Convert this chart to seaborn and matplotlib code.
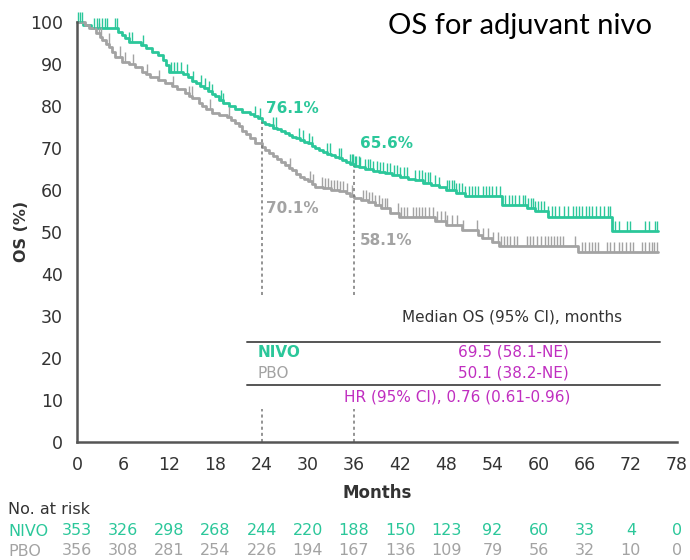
import numpy as np
import pandas as pd
import matplotlib
matplotlib.use("Agg")
import matplotlib.pyplot as plt
import seaborn as sns

# ---------------- data ----------------
nivo_t = [0, 0.8, 1.8, 5.3, 5.8, 6.3, 6.8, 8.3, 9.0, 9.8, 10.5, 11.2, 11.6, 12.0, 13.8, 14.4,
          15.0, 15.5, 16.0, 16.5, 17.0, 17.5, 18.0, 18.5, 19.0, 19.8, 20.5, 21.5, 22.5, 23.0,
          23.5, 24.0, 24.5, 25.0, 25.5, 26.0, 26.5, 27.0, 27.5, 28.0, 28.5, 29.0, 29.5, 30.0,
          30.5, 31.0, 31.5, 32.0, 32.5, 33.0, 33.5, 34.0, 34.5, 35.0, 35.5, 36.0, 36.7, 37.5,
          38.5, 39.2, 40.0, 41.0, 42.0, 43.0, 44.0, 45.0, 46.0, 47.0, 48.0, 49.3, 50.5, 55.2,
          58.5, 59.6, 61.2, 69.5, 75.5]
nivo_s = [100, 99.2, 98.4, 97.6, 96.8, 96.0, 95.2, 94.5, 93.7, 92.9, 92.1, 90.9, 89.7, 88.1, 87.5, 86.8,
          85.8, 85.3, 84.8, 84.2, 83.5, 82.8, 82.2, 81.4, 80.6, 79.9, 79.2, 78.6, 78.0, 77.5,
          77.0, 76.1, 75.7, 75.3, 74.8, 74.4, 73.9, 73.5, 73.0, 72.6, 72.2, 71.9, 71.4, 71.0,
          70.5, 70.0, 69.5, 69.0, 68.6, 68.2, 67.8, 67.5, 67.0, 66.6, 66.1, 65.6, 65.3, 65.0,
          64.4, 64.1, 63.9, 63.4, 63.0, 62.6, 62.3, 61.7, 61.2, 60.6, 60.0, 59.2, 58.4, 56.4,
          55.6, 54.9, 53.6, 50.2, 50.2]
pbo_t = [0, 1.0, 1.5, 2.5, 3.0, 3.3, 3.8, 4.2, 4.6, 5.0, 5.9, 6.7, 7.5, 8.5, 9.0, 9.5, 10.5,
         11.5, 12.3, 13.0, 14.0, 14.5, 15.0, 15.8, 16.3, 16.8, 17.5, 18.5, 19.5, 20.0, 20.5,
         21.0, 21.5, 22.0, 22.5, 23.2, 24.0, 24.5, 25.0, 25.5, 26.0, 26.5, 27.0, 27.5, 28.0,
         28.5, 29.0, 29.5, 30.0, 30.5, 31.0, 32.0, 33.0, 34.0, 35.0, 35.5, 36.0, 36.9, 37.8,
         38.7, 39.5, 40.7, 41.8, 46.5, 48.0, 50.0, 52.1, 52.6, 53.9, 54.8, 65.1, 75.5]
pbo_s = [100, 99.2, 98.4, 97.2, 96.4, 95.6, 94.8, 94.0, 92.8, 91.7, 90.5, 89.9, 89.3, 88.0, 87.5, 86.9, 86.1,
         85.3, 84.6, 84.0, 83.0, 82.4, 81.8, 80.6, 80.0, 79.3, 78.2, 77.8, 77.4, 76.6, 75.8,
         75.1, 74.0, 73.2, 72.4, 71.2, 70.1, 69.5, 68.8, 68.0, 67.3, 66.5, 65.8, 65.2, 64.6,
         63.8, 63.1, 62.5, 62.0, 61.3, 60.7, 60.3, 60.0, 59.6, 59.2, 58.6, 58.1, 57.6, 57.1,
         56.4, 55.6, 54.4, 53.4, 52.5, 51.6, 50.4, 49.2, 48.4, 47.6, 46.6, 45.1, 45.1]

nivo_cens = [0.1, 0.4, 0.7, 2.2, 2.6, 2.9, 3.2, 3.6, 3.9, 4.9, 5.2, 6.8, 7.2, 8.6, 12.2, 12.6,
             13.0, 13.5, 14.3, 15.1, 16.1, 16.6, 17.1, 17.5, 18.7, 19.0, 23.1, 23.8, 25.5, 25.9,
             28.8, 29.4, 30.1, 30.5, 32.5, 32.9, 34.0, 34.3, 35.5, 35.7, 35.9, 36.1, 36.3, 36.6,
             36.8, 37.5, 37.8, 38.1, 38.5, 39.0, 39.4, 39.8, 40.3, 40.7, 41.2, 41.6, 42.0, 42.5,
             42.9, 44.0, 44.4, 44.8, 45.2, 45.6, 45.9, 46.5, 47.0, 48.1, 48.4, 48.7, 49.0, 49.3,
             49.7, 50.0, 50.5, 50.9, 51.3, 51.7, 52.1, 52.8, 53.2, 53.6, 54.0, 54.5, 55.0, 55.7,
             56.1, 56.5, 57.0, 57.5, 58.0, 58.3, 58.6, 59.0, 59.3, 59.6, 59.9, 60.3, 60.7, 61.2,
             61.8, 62.2, 62.7, 63.3, 63.8, 64.5, 64.9, 65.3, 65.7, 66.2, 66.6, 67.0, 67.5, 68.0,
             68.5, 69.0, 69.3, 70.0, 70.4, 71.5, 71.9, 73.9, 74.3, 75.2, 75.4]
pbo_cens = [2.8, 3.1, 4.1, 5.6, 6.2, 7.3, 9.1, 10.6, 12.5, 14.5, 14.9, 17.3, 19.7, 27.7, 30.3,
            30.7, 31.8, 32.2, 32.6, 33.0, 33.4, 33.8, 34.2, 34.6, 35.1, 35.7, 37.2, 37.6, 38.0,
            38.4, 38.8, 39.2, 39.6, 40.0, 40.3, 41.7, 42.1, 42.5, 42.9, 43.7, 44.1, 44.5, 44.9,
            45.3, 45.8, 46.3, 46.8, 47.3, 47.8, 48.1, 48.7, 49.4, 50.2, 52.0, 52.8, 53.4, 54.1,
            54.7, 55.1, 55.5, 55.9, 56.3, 56.8, 57.2, 58.5, 58.9, 59.3, 59.8, 60.3, 60.9, 61.2,
            61.6, 62.0, 62.4, 62.8, 63.2, 64.8, 65.7, 66.1, 66.5, 66.9, 67.3, 67.7, 68.9, 69.3,
            69.8, 70.4, 70.9, 71.4, 71.9, 72.3, 73.5, 73.9, 74.3, 74.7, 75.0, 75.4]

risk_times = [0, 6, 12, 18, 24, 30, 36, 42, 48, 54, 60, 66, 72, 78]
nivo_risk = [353, 326, 298, 268, 244, 220, 188, 150, 123, 92, 60, 33, 4, 0]
pbo_risk = [356, 308, 281, 254, 226, 194, 167, 136, 109, 79, 56, 32, 10, 0]

landmarks = [24, 36]
nivo_land = ["76.1%", "65.6%"]
pbo_land = ["70.1%", "58.1%"]

GREEN = "#2bc79a"
GREY = "#a3a3a3"
MAG = "#c02ec0"
DARK = "#333333"
AX = "#555555"

sns.set_style("white")
plt.rcParams["font.family"] = ["DejaVu Sans"]

fig = plt.figure(figsize=(6.9, 5.6), dpi=100)
ax = fig.add_axes([77 / 690, 1 - 441.7 / 560, 600 / 690, 420 / 560])

df = pd.concat([
    pd.DataFrame({"t": nivo_t, "s": nivo_s, "arm": "NIVO"}),
    pd.DataFrame({"t": pbo_t, "s": pbo_s, "arm": "PBO"}),
])
sns.lineplot(data=df, x="t", y="s", hue="arm", palette={"NIVO": GREEN, "PBO": GREY},
             estimator=None, drawstyle="steps-post", linewidth=2.0, legend=False, ax=ax,
             clip_on=False)


def surv_at(times, surv, c):
    idx = np.searchsorted(np.asarray(times), np.asarray(c), side="right") - 1
    return np.asarray(surv)[idx]


for times, surv, cens, col in [(pbo_t, pbo_s, pbo_cens, GREY), (nivo_t, nivo_s, nivo_cens, GREEN)]:
    sv = surv_at(times, surv, cens)
    ax.vlines(cens, sv, sv + 2.4, color=col, linewidth=1.0, clip_on=False)

# landmark dotted lines
for lx, ntop in zip(landmarks, [76.1, 65.6]):
    ax.plot([lx, lx], [35, ntop], ls=(0, (2, 2)), color="#777777", lw=1.1)
    ax.plot([lx, lx], [0, 7.8], ls=(0, (2, 2)), color="#777777", lw=1.1)

ax.text(24.6, 79.3, nivo_land[0], color=GREEN, fontsize=11, fontweight="bold", va="center")
ax.text(36.8, 71.0, nivo_land[1], color=GREEN, fontsize=11, fontweight="bold", va="center")
ax.text(24.6, 55.6, pbo_land[0], color=GREY, fontsize=11, fontweight="bold", va="center")
ax.text(36.8, 48.0, pbo_land[1], color=GREY, fontsize=11, fontweight="bold", va="center")

# median table
ax.text(56.5, 29.8, "Median OS (95% CI), months", color=DARK, fontsize=11, ha="center", va="center")
ax.plot([22.1, 75.8], [23.8, 23.8], color=AX, lw=1.4)
ax.plot([22.1, 75.8], [13.5, 13.5], color=AX, lw=1.4)
ax.text(23.5, 21.3, "NIVO", color=GREEN, fontsize=11, fontweight="bold", va="center")
ax.text(23.5, 16.3, "PBO", color=GREY, fontsize=11, va="center")
ax.text(56.7, 21.3, "69.5 (58.1-NE)", color=MAG, fontsize=11, ha="center", va="center")
ax.text(56.7, 16.3, "50.1 (38.2-NE)", color=MAG, fontsize=11, ha="center", va="center")
ax.text(49.4, 10.7, "HR (95% CI), 0.76 (0.61-0.96)", color=MAG, fontsize=11, ha="center", va="center")

ax.set_xlim(0, 78)
ax.set_ylim(0, 100)
ax.set_xticks(risk_times)
ax.set_yticks(range(0, 101, 10))
ax.tick_params(axis="both", labelsize=12.5, colors=DARK, length=6, width=1.6, direction="out",
               pad=4, color=AX)
sns.despine(ax=ax)
for sp in ["left", "bottom"]:
    ax.spines[sp].set_color(AX)
    ax.spines[sp].set_linewidth(1.8)
ax.set_xlabel("")
ax.set_ylabel("")
ax.text(-0.093, 0.5, "OS (%)", transform=ax.transAxes, rotation=90, ha="center", va="center",
        fontsize=11.5, fontweight="bold", color=DARK)
ax.text(0.5, -0.122, "Months", transform=ax.transAxes, ha="center", va="center",
        fontsize=12, fontweight="bold", color=DARK)

# risk table
trans = ax.get_xaxis_transform()
fig.text(8 / 690, 1 - 510 / 560, "No. at risk", fontsize=11.5, color=DARK, va="center")
fig.text(8 / 690, 1 - 531 / 560, "NIVO", fontsize=11.5, color=GREEN, va="center")
fig.text(8 / 690, 1 - 551 / 560, "PBO", fontsize=11.5, color=GREY, va="center")
for x, n, p in zip(risk_times, nivo_risk, pbo_risk):
    ax.text(x, -0.2126, str(n), transform=trans, ha="center", va="center", fontsize=11.5, color=GREEN)
    ax.text(x, -0.260, str(p), transform=trans, ha="center", va="center", fontsize=11.5, color=GREY)

fig.text(520 / 690, 1 - 26 / 560, "OS for adjuvant nivo", fontsize=21, family=["Lato", "DejaVu Sans"],
         ha="center", va="center", color="black")

fig.savefig("out.png", dpi=100)
